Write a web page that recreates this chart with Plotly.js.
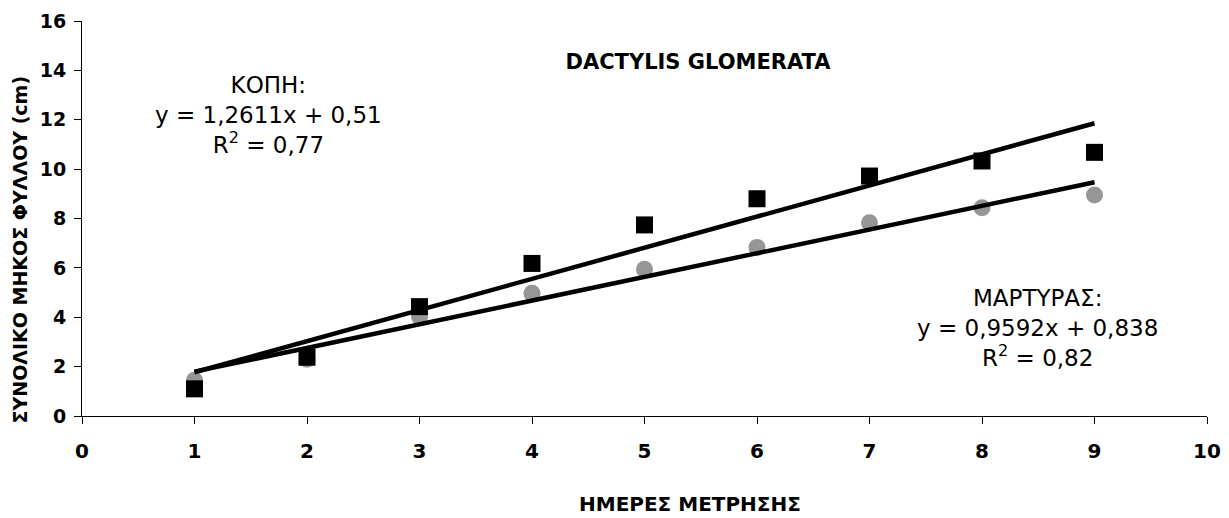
<!DOCTYPE html>
<html>
<head>
<meta charset="utf-8">
<script src="https://cdn.plot.ly/plotly-3.0.1.min.js"></script>
<style>html,body{margin:0;padding:0;background:#fff;}#chart{width:1229px;height:518px;}</style>
</head>
<body>
<div id="chart"></div>
<script>
// Measurement days
const days = [1, 2, 3, 4, 5, 6, 7, 8, 9];
// ΚΟΠΗ (cut) – black squares
const kopiValues = [1.1, 2.38, 4.43, 6.18, 7.74, 8.80, 9.72, 10.33, 10.68];
// ΜΑΡΤΥΡΑΣ (control) – grey circles
const martyrasValues = [1.45, 2.3, 4.02, 4.97, 5.94, 6.83, 7.83, 8.44, 8.95];
// Linear trend coefficients as printed on the chart
const kopiFit = {slope: 1.2611, intercept: 0.51, r2: '0,77'};
const martyrasFit = {slope: 0.9592, intercept: 0.838, r2: '0,82'};
const fitRange = [1, 9];
// Tick labels
const xTicks = [0, 1, 2, 3, 4, 5, 6, 7, 8, 9, 10];
const yTicks = [0, 2, 4, 6, 8, 10, 12, 14, 16];

const FONT = 'DejaVu Sans, Arial, sans-serif';
const fitLine = f => fitRange.map(x => f.slope * x + f.intercept);

const traces = [
  {x: days, y: martyrasValues, mode: 'markers', type: 'scatter', name: 'ΜΑΡΤΥΡΑΣ',
   marker: {symbol: 'circle', size: 17, color: '#969696'}},
  {x: days, y: kopiValues, mode: 'markers', type: 'scatter', name: 'ΚΟΠΗ',
   marker: {symbol: 'square', size: 17, color: '#000000'}},
  {x: fitRange, y: fitLine(kopiFit), mode: 'lines', type: 'scatter', name: 'ΚΟΠΗ trend',
   line: {color: '#000000', width: 4.5}},
  {x: fitRange, y: fitLine(martyrasFit), mode: 'lines', type: 'scatter', name: 'ΜΑΡΤΥΡΑΣ trend',
   line: {color: '#000000', width: 4.5}}
];

const layout = {
  width: 1229, height: 518,
  margin: {l: 82, r: 22, t: 21, b: 102},
  paper_bgcolor: '#fff', plot_bgcolor: '#fff',
  showlegend: false,
  font: {family: FONT, color: '#000'},
  title: {text: '<b>DACTYLIS GLOMERATA</b>', font: {family: FONT, size: 21, color: '#000'},
          xref: 'container', x: 698 / 1229, xanchor: 'center',
          yref: 'container', y: 1 - 62 / 518, yanchor: 'middle'},
  xaxis: {range: [0, 10], tickmode: 'array', tickvals: xTicks, ticktext: xTicks.map(v => '<b>' + v + '</b>'),
          ticklabelstandoff: 10,
          showgrid: false, zeroline: false, showline: true, linecolor: '#000', linewidth: 1,
          ticks: 'outside', ticklen: 7, tickcolor: '#000', tickwidth: 1,
          tickfont: {family: 'DejaVu Sans', size: 20, color: '#000'}},
  yaxis: {range: [0, 16], tickmode: 'array', tickvals: yTicks, ticktext: yTicks.map(v => '<b>' + v + '</b>'),
          ticklabelstandoff: 4,
          showgrid: false, zeroline: false, showline: true, linecolor: '#000', linewidth: 1,
          ticks: 'outside', ticklen: 7, tickcolor: '#000', tickwidth: 1,
          tickfont: {family: 'DejaVu Sans', size: 19, color: '#000'}},
  annotations: [
    {xref: 'data', yref: 'data', x: 1.66, y: 12.19, showarrow: false, align: 'center',
     text: 'ΚΟΠΗ:<br>y = 1,2611x + 0,51<br>R<sup>2</sup> = ' + kopiFit.r2,
     font: {family: FONT, size: 23, color: '#000'}},
    {xref: 'data', yref: 'data', x: 8.49, y: 3.56, showarrow: false, align: 'center',
     text: 'ΜΑΡΤΥΡΑΣ:<br>y = 0,9592x + 0,838<br>R<sup>2</sup> = ' + martyrasFit.r2,
     font: {family: FONT, size: 23, color: '#000'}},
    {xref: 'paper', yref: 'paper', x: (690 - 82) / 1125, y: (416 - 504) / 395, showarrow: false,
     xanchor: 'center', yanchor: 'middle', text: '<b>ΗΜΕΡΕΣ ΜΕΤΡΗΣΗΣ</b>',
     font: {family: FONT, size: 20, color: '#000'}},
    {xref: 'paper', yref: 'paper', x: (19.5 - 82) / 1125, y: (416 - 250) / 395, showarrow: false,
     xanchor: 'center', yanchor: 'middle', textangle: -90, text: '<b>ΣΥΝΟΛΙΚΟ ΜΗΚΟΣ ΦΥΛΛΟΥ (cm)</b>',
     font: {family: FONT, size: 19, color: '#000'}}
  ]
};

Plotly.newPlot('chart', traces, layout, {displayModeBar: false, staticPlot: true});
</script>
</body>
</html>
